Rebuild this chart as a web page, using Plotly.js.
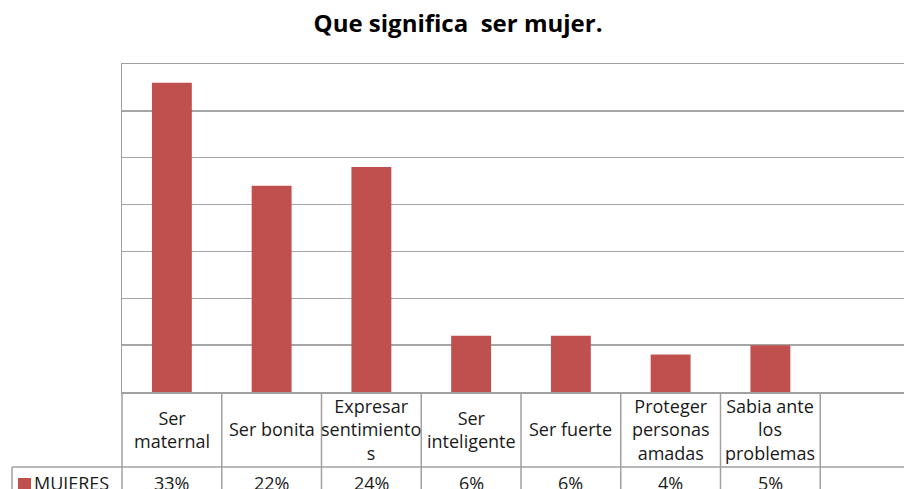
<!DOCTYPE html>
<html>
<head>
<meta charset="utf-8">
<script src="https://cdn.plot.ly/plotly-3.0.1.min.js"></script>
<style>
html, body { margin: 0; padding: 0; overflow: hidden; background: #fff; }
#chart { width: 960px; height: 520px; }
</style>
</head>
<body>
<div id="chart"></div>
<script>
var categories = ["Ser maternal", "Ser bonita", "Expresar sentimientos", "Ser inteligente", "Ser fuerte", "Proteger personas amadas", "Sabia ante los problemas"];
var tableLabels = ["Ser<br>maternal", "Ser bonita", "Expresar<br>sentimiento<br>s", "Ser<br>inteligente", "Ser fuerte", "Proteger<br>personas<br>amadas", "Sabia ante<br>los<br>problemas"];
var mujeres = [33, 22, 24, 6, 6, 4, 5];
var seriesName = "MUJERES";
var chartTitle = "Que significa\u00a0 ser mujer.";

var nSlots = 8;
var W = 960, H = 520;
var mL = 122, mT = 64, mB = H - 392, mR = W - 920;
var plotW = W - mL - mR, plotH = H - mT - mB;
function px2x(p) { return (p - mL) / plotW; }
function py2y(p) { return (mT + plotH - p) / plotH; }

var lineColor = "#a0a0a0";
var textColor = "#1a1a1a";
var tableFont = { family: "Open Sans, sans-serif", size: 18, color: textColor };

var shapes = [];
var annotations = [];
var rowY = py2y(467);
var tableBottom = -0.5;
var legendLeft = px2x(12);

for (var k = 0; k <= nSlots; k++) {
  shapes.push({ type: "line", xref: "paper", yref: "paper", x0: k / nSlots, x1: k / nSlots, y0: 0, y1: tableBottom,
    line: { color: lineColor, width: 1.5 } });
}
shapes.push({ type: "line", xref: "paper", yref: "paper", x0: legendLeft, x1: 1, y0: rowY, y1: rowY, line: { color: lineColor, width: 1.5 } });
shapes.push({ type: "line", xref: "paper", yref: "paper", x0: legendLeft, x1: legendLeft, y0: rowY, y1: tableBottom, line: { color: lineColor, width: 1.5 } });
shapes.push({ type: "rect", xref: "paper", yref: "paper", x0: px2x(18), x1: px2x(31), y0: py2y(478), y1: py2y(491),
  fillcolor: "#c0504d", line: { width: 0 } });

for (var i = 0; i < categories.length; i++) {
  annotations.push({ xref: "x", yref: "paper", x: categories[i], y: py2y(429), text: tableLabels[i], showarrow: false,
    xanchor: "center", yanchor: "middle", align: "center", font: tableFont });
  annotations.push({ xref: "x", yref: "paper", x: categories[i], y: py2y(483), text: mujeres[i] + "%", showarrow: false,
    xanchor: "center", yanchor: "middle", font: tableFont });
}
annotations.push({ xref: "paper", yref: "paper", x: px2x(32), y: py2y(483), text: seriesName, showarrow: false,
  xanchor: "left", yanchor: "middle", font: tableFont });

var trace = {
  type: "bar",
  x: categories,
  y: mujeres,
  name: seriesName,
  width: 0.4,
  marker: { color: "#c0504d", line: { width: 0 } },
  hoverinfo: "none"
};

var layout = {
  width: W, height: H,
  margin: { l: mL, r: mR, t: mT, b: mB, pad: 0 },
  paper_bgcolor: "#fff", plot_bgcolor: "#fff",
  showlegend: false,
  title: { text: "<b>" + chartTitle + "</b>", xref: "container", x: 458 / W, xanchor: "center", y: 1 - 24 / H, yanchor: "middle",
    font: { family: "Open Sans, sans-serif", size: 24, color: "#000" } },
  xaxis: { type: "category", range: [-0.5, nSlots - 0.5], showticklabels: false, ticks: "", showgrid: false,
    showline: true, linecolor: lineColor, linewidth: 1.5, mirror: true, zeroline: false, fixedrange: true },
  yaxis: { range: [0, 35], dtick: 5, showticklabels: false, ticks: "", showgrid: true, gridcolor: "#a6a6a6", gridwidth: 1.5,
    showline: true, linecolor: lineColor, linewidth: 1.5, mirror: true, zeroline: false, fixedrange: true },
  shapes: shapes,
  annotations: annotations
};

Plotly.newPlot("chart", [trace], layout, { staticPlot: true, displayModeBar: false });
</script>
</body>
</html>
